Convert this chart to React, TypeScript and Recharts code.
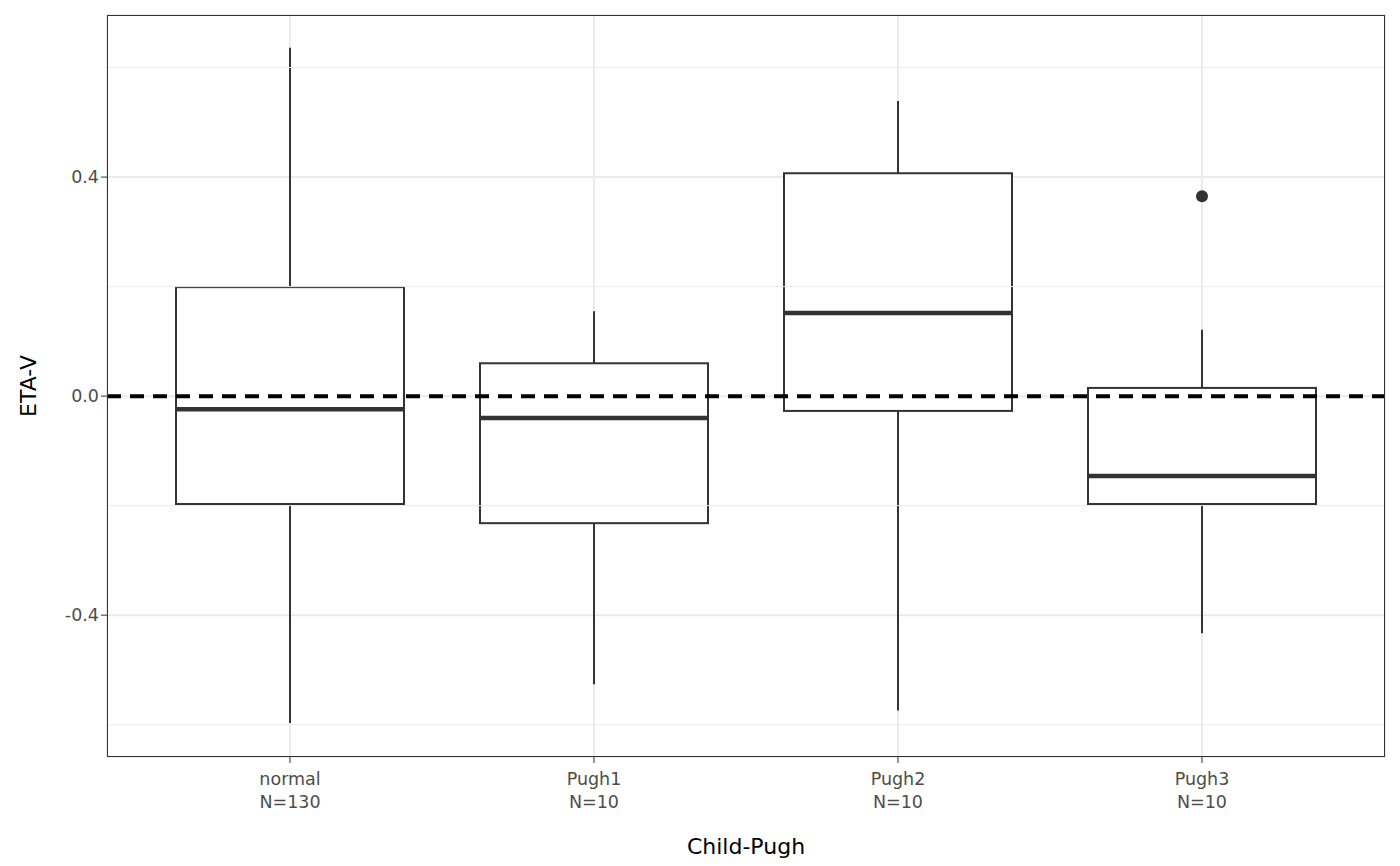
import React from 'react';
import { ComposedChart, Bar, Scatter, XAxis, YAxis, CartesianGrid, ReferenceLine } from 'recharts';

const groups = ['normal', 'Pugh1', 'Pugh2', 'Pugh3'];
const counts = [130, 10, 10, 10];
const mins = [-0.597, -0.526, -0.574, -0.433];
const q1s = [-0.197, -0.232, -0.027, -0.197];
const medians = [-0.024, -0.04, 0.152, -0.146];
const q3s = [0.199, 0.06, 0.407, 0.015];
const maxs = [0.636, 0.155, 0.539, 0.121];
const outliers: (number | null)[] = [null, null, null, 0.365];
const yTicks = [-0.4, 0, 0.4];
const minorGrid = [-0.6, -0.2, 0.2, 0.6];

const data = groups.map((g, i) => ({
  name: g, range: [mins[i], maxs[i]],
  min: mins[i], q1: q1s[i], med: medians[i], q3: q3s[i], max: maxs[i], outlier: outliers[i],
}));

const BoxShape = (props: any) => {
  const { x, y, width, height, payload } = props;
  const { min, max, q1, q3, med } = payload;
  const ppu = height / (max - min);
  const py = (v: number) => y + (max - v) * ppu;
  const cx = x + width / 2;
  return (
    <g>
      <line x1={cx} x2={cx} y1={py(max)} y2={py(q3)} stroke="#333" strokeWidth={2} />
      <line x1={cx} x2={cx} y1={py(q1)} y2={py(min)} stroke="#333" strokeWidth={2} />
      <rect x={x} y={py(q3)} width={width} height={py(q1) - py(q3)} fill="#fff" stroke="#333" strokeWidth={2} />
      <line x1={x} x2={x + width} y1={py(med)} y2={py(med)} stroke="#333" strokeWidth={4.5} />
    </g>
  );
};

const XTick = (props: any) => {
  const { x, y, payload } = props;
  const i = groups.indexOf(payload.value);
  return (
    <g>
      <text x={x} y={y + 20} textAnchor="middle" fill="#4d4d4d" fontSize={17.5}>{payload.value}</text>
      <text x={x} y={y + 43} textAnchor="middle" fill="#4d4d4d" fontSize={17.5}>{`N=${counts[i]}`}</text>
    </g>
  );
};

export default function App() {
  return (
    <div style={{ position: 'absolute', left: 0, top: 0, width: 1400, height: 866, background: '#fff', fontFamily: 'DejaVu Sans' }}>
      <ComposedChart width={1400} height={866} data={data} margin={{ top: 15, right: 15, left: 0, bottom: 0 }}>
        <CartesianGrid stroke="#ebebeb" strokeWidth={2} />
        {minorGrid.map((v) => (
          <ReferenceLine key={v} y={v} stroke="#ebebeb" strokeWidth={1} />
        ))}
        <XAxis dataKey="name" type="category" padding={{ left: 31, right: 31 }} height={109}
          tick={<XTick />} tickLine={{ stroke: '#333' }} axisLine={false}
          label={{ value: 'Child-Pugh', position: 'insideBottom', offset: 12, fill: '#000', fontSize: 22 }} />
        <YAxis type="number" domain={[-0.659, 0.696]} allowDataOverflow ticks={yTicks} width={107}
          tickFormatter={(v: number) => v.toFixed(1)} tick={{ fill: '#4d4d4d', fontSize: 17.5 }}
          tickLine={{ stroke: '#333' }} axisLine={false}
          label={{ value: 'ETA-V', angle: -90, position: 'insideLeft', offset: 28, fill: '#000', fontSize: 22, style: { textAnchor: 'middle' } }} />
        <Bar dataKey="range" barSize={228} shape={<BoxShape />} isAnimationActive={false} />
        <ReferenceLine y={0} stroke="#000" strokeWidth={4} strokeDasharray="14 9" />
        <Scatter dataKey="outlier" fill="#333" shape={(p: any) => p.payload.outlier == null ? <g /> : <circle cx={p.cx} cy={p.cy} r={6} fill="#333" />} isAnimationActive={false} />
      </ComposedChart>
      <div style={{ position: 'absolute', left: 107, top: 15, width: 1278, height: 742, border: '1px solid #333', boxSizing: 'border-box', pointerEvents: 'none' }} />
    </div>
  );
}
